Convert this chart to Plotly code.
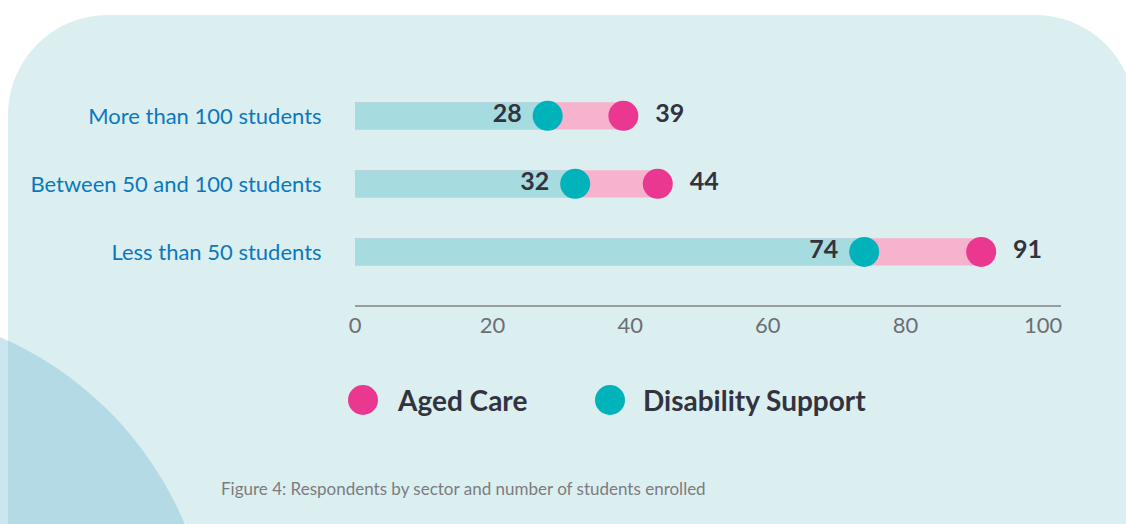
import plotly.graph_objects as go

# ---- data ----
categories = ["More than 100 students", "Between 50 and 100 students", "Less than 50 students"]
aged_care = [39, 44, 91]
disability_support = [28, 32, 74]
x_ticks = [0, 20, 40, 60, 80, 100]

# ---- geometry (figure pixels) ----
W, H = 1126, 524
ML, MR, MT, MB = 355, 65, 60, 219
PW, PH = W - ML - MR, H - MT - MB


def px(x):
    return (x - ML) / PW


def py(y):
    return (H - MB - y) / PH


TEAL_BAR = "#a6dbdf"
PINK_BAR = "#f7b3cd"
TEAL_DOT = "#00b2b9"
PINK_DOT = "#ea3891"
DARK = "#33333f"
BLUE = "#0b78be"
FONT = "Lato"

fig = go.Figure()

# pink bar (0 -> aged care), teal bar (0 -> disability) on top
fig.add_trace(go.Bar(
    y=categories, x=aged_care, orientation="h", base=0,
    marker=dict(color=PINK_BAR, line=dict(width=0)), width=0.4,
    hoverinfo="skip", showlegend=False))
fig.add_trace(go.Bar(
    y=categories, x=disability_support, orientation="h", base=0,
    marker=dict(color=TEAL_BAR, line=dict(width=0)), width=0.4,
    hoverinfo="skip", showlegend=False))

fig.add_trace(go.Scatter(
    y=categories, x=disability_support, mode="markers+text",
    name="Disability Support",
    marker=dict(size=30, color=TEAL_DOT, line=dict(width=0)),
    text=[f"{v} " for v in disability_support], textposition="middle left",
    textfont=dict(family=FONT, size=25, color=DARK, weight="bold"),
    cliponaxis=False, showlegend=False))
fig.add_trace(go.Scatter(
    y=categories, x=aged_care, mode="markers+text",
    name="Aged Care",
    marker=dict(size=30, color=PINK_DOT, line=dict(width=0)),
    text=[f"  {v}" for v in aged_care], textposition="middle right",
    textfont=dict(family=FONT, size=25, color=DARK, weight="bold"),
    cliponaxis=False, showlegend=False))

# ---- background shapes ----
L, T, R, B, r = 8, 15, 1135, 640, 100
k = 0.5523 * r
path = (
    f"M {px(L)} {py(B)} "
    f"L {px(L)} {py(T + r)} "
    f"C {px(L)} {py(T + r - k)} {px(L + r - k)} {py(T)} {px(L + r)} {py(T)} "
    f"L {px(R - r)} {py(T)} "
    f"C {px(R - r + k)} {py(T)} {px(R)} {py(T + r - k)} {px(R)} {py(T + r)} "
    f"L {px(R)} {py(B)} Z"
)
shapes = [
    dict(type="path", xref="paper", yref="paper", path=path,
         fillcolor="#dbeff1", line=dict(width=0), layer="below"),
    dict(type="circle", xref="paper", yref="paper",
         x0=px(-140 - 352), x1=px(-140 + 352), y0=py(660 + 352), y1=py(660 - 352),
         fillcolor="rgba(100,180,205,0.33)", line=dict(width=0), layer="below"),
    # legend dots
    dict(type="circle", xref="paper", yref="paper",
         x0=px(348), x1=px(378), y0=py(415), y1=py(385),
         fillcolor=PINK_DOT, line=dict(width=0)),
    dict(type="circle", xref="paper", yref="paper",
         x0=px(595), x1=px(625), y0=py(415), y1=py(385),
         fillcolor=TEAL_DOT, line=dict(width=0)),
]

annotations = [
    dict(xref="paper", yref="paper", x=px(395), y=py(400), xanchor="left", yanchor="middle",
         text="<b>Aged Care</b>", showarrow=False,
         font=dict(family=FONT, size=28, color=DARK)),
    dict(xref="paper", yref="paper", x=px(641), y=py(400), xanchor="left", yanchor="middle",
         text="<b>Disability Support</b>", showarrow=False,
         font=dict(family=FONT, size=28, color=DARK)),
    dict(xref="paper", yref="paper", x=px(463), y=py(488), xanchor="center", yanchor="middle",
         text="Figure 4: Respondents by sector and number of students enrolled", showarrow=False,
         font=dict(family=FONT, size=17, color="#7b7c7f")),
]

fig.update_layout(
    width=W, height=H,
    margin=dict(l=ML, r=MR, t=MT, b=MB),
    paper_bgcolor="white", plot_bgcolor="rgba(0,0,0,0)",
    barmode="overlay", showlegend=False,
    shapes=shapes, annotations=annotations,
    xaxis=dict(range=[0, 102.6], tickvals=x_ticks, showgrid=False, zeroline=False,
               showline=True, linecolor="#9b9ca0", linewidth=1.5, ticks="",
               tickfont=dict(family=FONT, size=22, color="#6d6e72")),
    yaxis=dict(type="category", categoryorder="array", categoryarray=categories,
               range=[2.78, -0.82], showgrid=False, zeroline=False, showline=False,
               ticks="outside", ticklen=28, tickcolor="rgba(0,0,0,0)",
               tickfont=dict(family=FONT, size=22, color=BLUE)),
)

fig.write_html("out.html")
